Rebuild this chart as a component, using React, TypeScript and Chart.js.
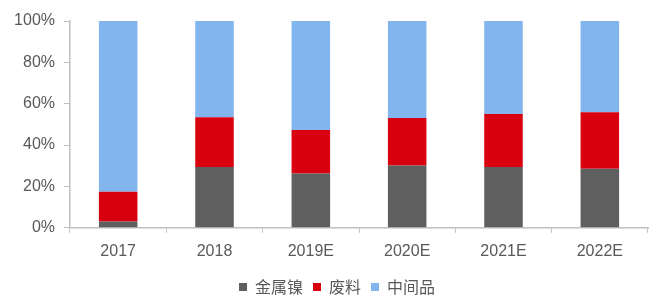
import React, { useEffect, useRef } from "react";
import { Chart, registerables } from "chart.js";

Chart.register(...registerables);

const categories = ["2017", "2018", "2019E", "2020E", "2021E", "2022E"];
const metalNickel = [3.1, 29.4, 26.2, 30.1, 29.4, 28.5];
const scrap = [14.3, 24.1, 21.1, 23.0, 25.6, 27.4];
const intermediate = [82.6, 46.5, 52.7, 46.9, 45.0, 44.1];
const seriesNames = ["金属镍", "废料", "中间品"];
const yTicks = [0, 20, 40, 60, 80, 100];

const FONT = "'Liberation Sans', 'Noto Sans CJK SC', sans-serif";
const TEXT = "#595959";
const AXIS = "#bfbfbf";

const legendShift = {
  id: "legendShift",
  afterLayout(chart: any) {
    const lg = chart.legend;
    if (lg) {
      lg.left += 13;
      lg.right += 13;
      lg.top -= 1;
      lg.bottom -= 1;
      if (lg.legendHitBoxes) lg.legendHitBoxes.forEach((b: any) => (b.left += 13));
    }
  },
};

export default function App() {
  const ref = useRef<HTMLCanvasElement | null>(null);
  useEffect(() => {
    if (!ref.current) return;
    const chart = new Chart(ref.current, {
      type: "bar",
      data: {
        labels: categories,
        datasets: [
          { label: seriesNames[0], data: metalNickel, backgroundColor: "#5f5f5f" },
          { label: seriesNames[1], data: scrap, backgroundColor: "#d9000f" },
          { label: seriesNames[2], data: intermediate, backgroundColor: "#82b4ee" },
        ],
      },
      plugins: [legendShift],
      options: {
        animation: false,
        responsive: false,
        maintainAspectRatio: false,
        devicePixelRatio: 1,
        datasets: { bar: { barPercentage: 0.4, categoryPercentage: 1 } },
        layout: { padding: { left: 0, right: 15, top: 21, bottom: -4 } },
        plugins: {
          tooltip: { enabled: false },
          legend: {
            position: "bottom",
            labels: {
              boxWidth: 8,
              boxHeight: 8,
              padding: 10,
              color: TEXT,
              font: { family: "'Noto Sans CJK SC', sans-serif", size: 16 },
            },
          },
        },
        scales: {
          x: {
            stacked: true,
            grid: {
              display: true,
              drawOnChartArea: false,
              drawTicks: true,
              tickLength: 5,
              color: AXIS,
              offset: true,
            },
            border: { display: true, color: AXIS, width: 1.5 },
            ticks: { color: TEXT, font: { family: FONT, size: 16 }, padding: 9 },
          },
          y: {
            stacked: true,
            min: 0,
            max: 100,
            afterFit: (s: any) => {
              s.width = 70;
            },
            afterBuildTicks: (s: any) => {
              s.ticks = yTicks.map((v) => ({ value: v }));
            },
            grid: {
              display: true,
              drawOnChartArea: false,
              drawTicks: true,
              tickLength: 6,
              color: AXIS,
            },
            border: { display: true, color: AXIS, width: 1.5 },
            ticks: {
              color: TEXT,
              font: { family: FONT, size: 16 },
              padding: 9,
              callback: (v: any) => v + "%",
            },
          },
        },
      },
    });
    return () => chart.destroy();
  }, []);
  return (
    <div style={{ position: "fixed", left: 0, top: 0, width: 663, height: 302, background: "#fff" }}>
      <canvas ref={ref} width={663} height={302} style={{ width: 663, height: 302, display: "block" }} />
    </div>
  );
}
